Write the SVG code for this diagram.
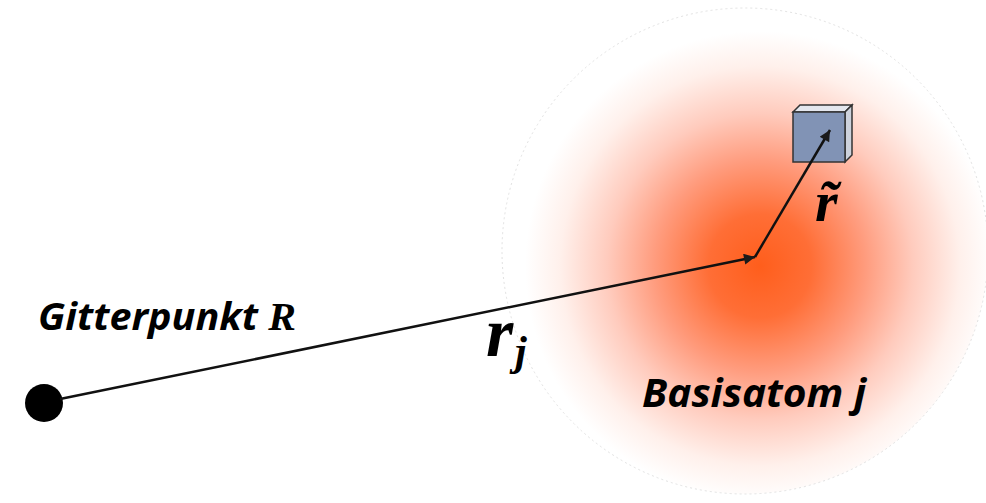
<svg xmlns="http://www.w3.org/2000/svg" width="986" height="503" viewBox="0 0 986 503">
<defs>
<radialGradient id="glow" cx="760" cy="266" r="235" gradientUnits="userSpaceOnUse">
<stop offset="0" stop-color="#ff5e1c"/>
<stop offset="0.22" stop-color="#ff6e36"/>
<stop offset="0.45" stop-color="#ff9c7e"/>
<stop offset="0.65" stop-color="#ffcbbd"/>
<stop offset="0.85" stop-color="#fff0eb"/>
<stop offset="1" stop-color="#ffffff"/>
</radialGradient>
<marker id="ah" viewBox="0 0 10 10" refX="10" refY="5" markerWidth="16" markerHeight="11" markerUnits="userSpaceOnUse" orient="auto">
<path d="M0,0 L10,5 L0,10 z" fill="#1a1a1a"/>
</marker>
</defs>
<style>
.lbl{font-family:"Open Sans","Liberation Sans",sans-serif;font-weight:bold;font-style:italic;fill:#000}
.math{font-family:"Liberation Serif","DejaVu Serif",serif;font-weight:bold;font-style:italic;fill:#000}
.vec{stroke:#111;stroke-width:2.5;fill:none}
</style>
<rect width="986" height="503" fill="#fff"/>
<g id="atom">
<circle cx="745" cy="251" r="243" fill="url(#glow)" stroke="#e2e2e2" stroke-width="1" stroke-dasharray="2 3"/>
</g>
<g id="volume">
<polygon points="793,112 800,105 852,105 845,112" fill="#e4e7ee" stroke="#333" stroke-width="1.5"/>
<polygon points="845,112 852,105 852,155 845,162" fill="#cdd2dc" stroke="#333" stroke-width="1.5"/>
<rect x="793" y="112" width="52" height="50" fill="#8193b5" stroke="#333" stroke-width="1.5"/>
</g>
<g id="gitterpunkt">
<circle cx="44" cy="403" r="19" fill="#000"/>
<text class="lbl" x="38" y="330" font-size="38" textLength="258" lengthAdjust="spacingAndGlyphs">Gitterpunkt <tspan class="math" font-size="40">R</tspan></text>
</g>
<g id="labels">
<text class="lbl" x="642" y="407" font-size="40" textLength="224" lengthAdjust="spacingAndGlyphs">Basisatom j</text>
<text class="math" x="486" y="356" font-size="70">r</text>
<text class="math" x="515" y="365" font-size="42">j</text>
<text class="math" x="815" y="221" font-size="58">r&#771;</text>
</g>
<g id="connectors">
<line class="vec" x1="60" y1="399" x2="755" y2="257" marker-end="url(#ah)"/>
<line class="vec" x1="755" y1="257" x2="830" y2="130" marker-end="url(#ah)"/>
</g>
</svg>
